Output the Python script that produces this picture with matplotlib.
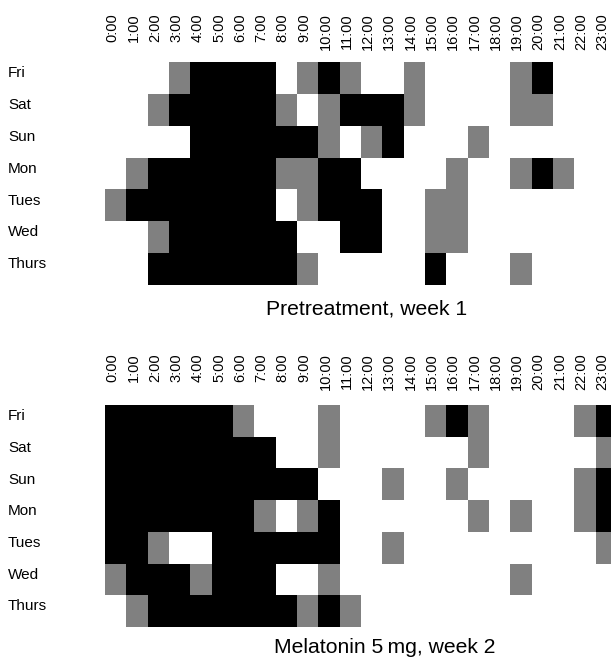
import numpy as np
import matplotlib
matplotlib.use('Agg')
import matplotlib.pyplot as plt
from matplotlib.colors import ListedColormap
from matplotlib.transforms import blended_transform_factory

plt.rcParams['font.family'] = ['Liberation Sans', 'DejaVu Sans']

days = ['Fri', 'Sat', 'Sun', 'Mon', 'Tues', 'Wed', 'Thurs']
hours = ['%d:00' % h for h in range(24)]

# 0 = white, 1 = grey, 2 = black ; one string per day, one digit per hour
pre_week1 = [
    '000122220121001000012000',
    '001222221012221000011000',
    '000022222210120001000000',
    '012222221122000010012100',
    '122222220122200110000000',
    '001222222002200110000000',
    '002222222100000200010000',
]
mel_week2 = [
    '222222100010000121000012',
    '222222220010000001000001',
    '222222222200010010000012',
    '222222210120000001010012',
    '221002222220010000000001',
    '122212220010000000010000',
    '012222222121000000000000',
]
titles = ['Pretreatment, week 1', 'Melatonin 5\u2009mg, week 2']

W, H = 611, 657
fig = plt.figure(figsize=(W / 100, H / 100), dpi=100)
cmap = ListedColormap(['white', '#808080', 'black'])

# pixels: grid top, grid bottom, top of hour labels, title baseline, title centre x
panels = [(62, 285, 13, 315, 367), (405, 627, 353, 653, 385)]
left, cell_w = 105, 21.3

for grid, title, (top, bot, lab_top, base, tx) in zip([pre_week1, mel_week2], titles, panels):
    data = np.array([[int(c) for c in row] for row in grid])
    ax = fig.add_axes([left / W, 1 - bot / H, 24 * cell_w / W, (bot - top) / H])
    ax.imshow(data, cmap=cmap, vmin=0, vmax=2, aspect='auto', interpolation='nearest')
    ax.axis('off')

    tr_x = blended_transform_factory(ax.transData, fig.transFigure)
    for j, h in enumerate(hours):
        ax.text(j - 0.15, 1 - lab_top / H, h, transform=tr_x, rotation=90,
                ha='center', va='top', fontsize=10.5)

    tr_y = blended_transform_factory(fig.transFigure, ax.transData)
    for i, d in enumerate(days):
        ax.text(8 / W, i - 0.15, d, transform=tr_y, ha='left', va='center', fontsize=11)

    fig.text(tx / W, 1 - base / H, title, ha='center', va='baseline', fontsize=15.2)

fig.savefig('out.png', dpi=100)
